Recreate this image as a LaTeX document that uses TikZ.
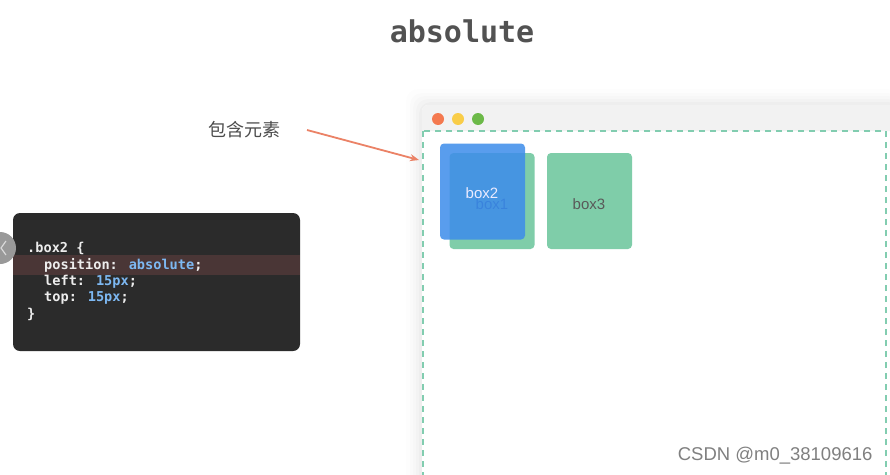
\documentclass[tikz,border=0pt]{standalone}
\usepackage{fontspec}
\setmainfont{Liberation Sans}
\newfontfamily\cjk{Noto Sans CJK SC}
\newfontfamily\codefont{DejaVu Sans Mono}
\newfontfamily\titlefont{DejaVu Sans Mono}
\usetikzlibrary{arrows.meta}
\definecolor{boxgreen}{HTML}{7FCDA9}
\definecolor{boxblue}{HTML}{3D8CEB}
\definecolor{codebg}{HTML}{2B2B2B}
\definecolor{codehl}{HTML}{4A3636}
\definecolor{codeblue}{HTML}{7DB8F2}
\definecolor{arrowc}{HTML}{EB8266}
\definecolor{dashc}{HTML}{82CDB0}
\tikzset{
  boxstyle/.style={rounded corners=4pt, minimum width=85pt, minimum height=96pt, inner sep=0pt},
  codeline/.style={anchor=west, inner sep=0pt, font=\codefont\bfseries\fontsize{13.6}{14}\selectfont, text=white!93!black},
  dot/.style={circle, minimum size=12pt, inner sep=0pt},
}
\begin{document}
\begin{tikzpicture}[x=1pt,y=-1pt]
\useasboundingbox (0,0) rectangle (890,474);
\fill[white] (0,0) rectangle (890,474);
% title
\node[font=\titlefont\bfseries\fontsize{30}{32}\selectfont, text=black!68] (title) at (462,31) {absolute};
% browser shadow
\foreach \d/\o in {16/0.008,12/0.01,9/0.012,6/0.015,3/0.02}{
  \fill[black, opacity=\o, rounded corners=12pt] (422-\d,105-\d) rectangle (900,490);
}
\fill[white, rounded corners=6pt] (422,105) rectangle (900,490);
\fill[black!5, rounded corners=6pt] (422,105) rectangle (900,131);
\fill[black!5] (422,120) rectangle (900,131);
\node[dot, fill={rgb,255:red,244;green,121;blue,79}] (red) at (438,119) {};
\node[dot, fill={rgb,255:red,249;green,205;blue,72}] (yellow) at (458,119) {};
\node[dot, fill={rgb,255:red,108;green,185;blue,72}] (green) at (478,119) {};
% container
\draw[dashc, line width=2.6pt, dash pattern=on 6pt off 5pt] (423,131) rectangle (886,480);
\coordinate (cont) at (419,160);
% boxes
\node[boxstyle, fill=boxgreen] (box1) at (492,201) {};
\node[text=boxblue!60!black, font=\fontsize{15}{16}\selectfont] (l1) at (492,204) {box1};
\node[boxstyle, fill=boxblue, fill opacity=0.85] (box2) at (482.5,191.5) {};
\node[text=white!92!blue, font=\fontsize{15}{16}\selectfont] (l2) at (482,193) {box2};
\node[boxstyle, fill=boxgreen] (box3) at (589.5,201) {};
\node[text=black!65, font=\fontsize{15}{16}\selectfont] (l3) at (589,204) {box3};
% label + arrow
\node[text=black!70, font=\cjk\fontsize{18}{20}\selectfont] (lbl) at (244,130) {包含元素};
\coordinate (astart) at (307,130);
\draw[arrowc, line width=1.8pt, -{Stealth[length=9pt,width=7pt]}] (astart) -- (cont);
% code panel
\fill[codebg, rounded corners=7pt] (13,213) rectangle (300,351);
\fill[codehl] (13,255) rectangle (300,275);
\node[codeline] (c1) at (27,248) {.box2 \{};
\node[codeline] (c2) at (44,265) {position: \textcolor{codeblue}{absolute};};
\node[codeline] (c3) at (44,282) {left: \textcolor{codeblue}{15px};};
\node[codeline] (c4) at (44,298) {top: \textcolor{codeblue}{15px};};
\node[codeline] (c5) at (27,314) {\}};
% side circle
\fill[black!40] (0,248) circle (16pt);
\draw[white!85!black, line width=1.2pt] (6,241) -- (1,248) -- (6,255);
% watermark
\node[text=black!50, font=\fontsize{18.5}{20}\selectfont, anchor=east] (wm) at (876,456) {CSDN @m0\_38109616};
\end{tikzpicture}
\end{document}
